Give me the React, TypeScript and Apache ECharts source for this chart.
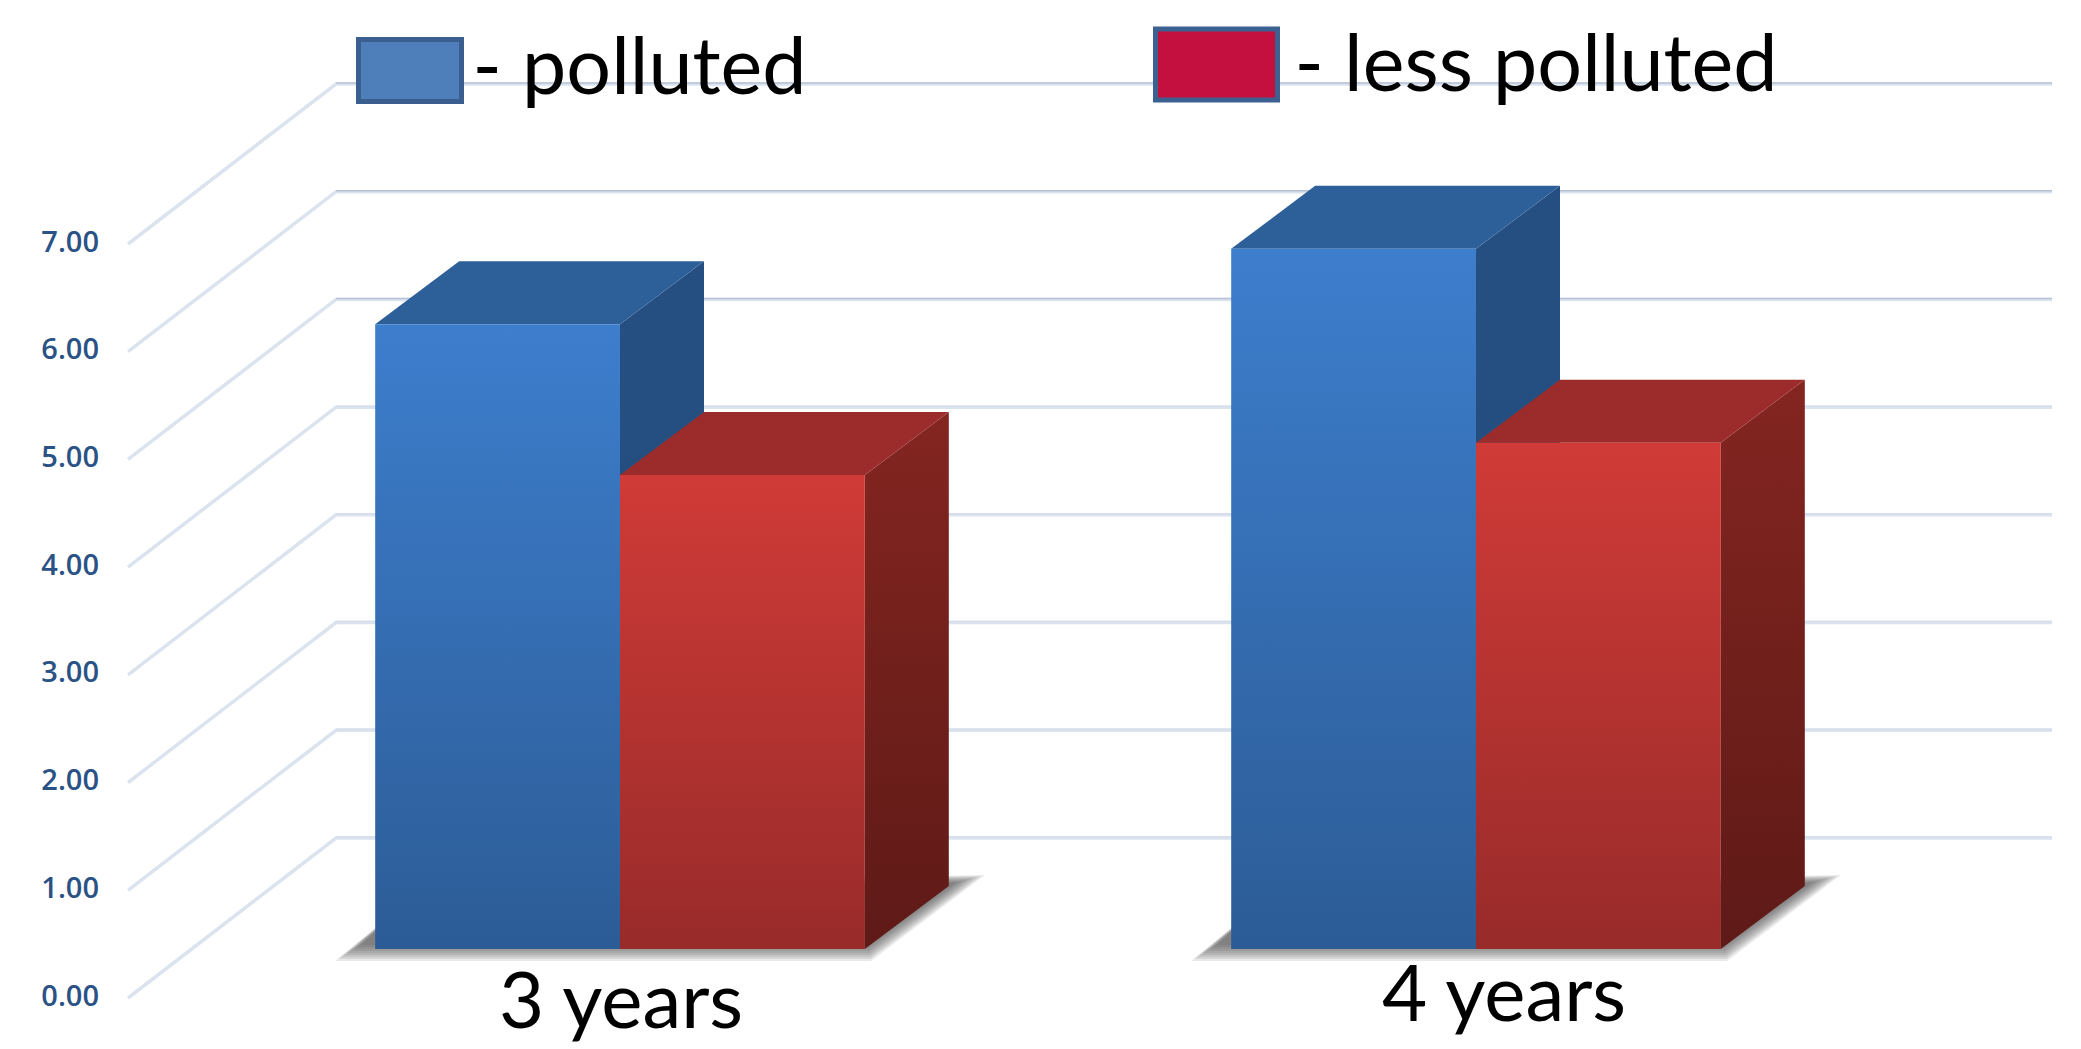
import React, { useEffect, useRef } from "react";
import * as echarts from "echarts";

const categories = ["3 years", "4 years"];
const pollutedValues = [5.8, 6.5];
const lessPollutedValues = [4.4, 4.7];
const yTicks = [0, 1, 2, 3, 4, 5, 6, 7];
const pollutedName = "- polluted";
const lessPollutedName = "- less polluted";

// Projection of the floor: bars stand part-way back between the front edge and the wall.
const WALL_DX = 208;
const WALL_DY = -160;
const FLOOR_DX = 64;
const FLOOR_DY = -49;
const BAR_DX = 84;
const BAR_DY = -63;
const BAR_RATIO = 0.286;
const RIGHT_END = 2052;
const SHADOW_LAYERS = 9;

const poly = (points: number[][], fill: any) => ({
  type: "polygon",
  shape: { points },
  style: { fill },
});

const vertical = (from: string, to: string) =>
  new echarts.graphic.LinearGradient(0, 0, 0, 1, [
    { offset: 0, color: from },
    { offset: 1, color: to },
  ]);

const renderWall = (params: any, api: any) => {
  const value = api.value(1);
  const front = api.coord([0, value]);
  const x = params.coordSys.x;
  const y = front[1];
  const cornerX = x + WALL_DX;
  const cornerY = y + WALL_DY;
  // The upper wall lines carry a darker rim along their top edge.
  const rim = value >= 5 ? "#b6c2d4" : "#d5deea";
  return {
    type: "group",
    children: [
      {
        type: "polyline",
        shape: { points: [[x, y], [cornerX, cornerY], [RIGHT_END, cornerY]] },
        style: { fill: "none", stroke: "#dbe3ef", lineWidth: 3.5 },
      },
      {
        type: "line",
        shape: { x1: cornerX, y1: cornerY - 1, x2: RIGHT_END, y2: cornerY - 1 },
        style: { stroke: rim, lineWidth: 1.5 },
      },
    ],
  };
};

// Soft floor shadow, built from nested translucent polygons that darken toward the bars.
const renderShadow = (_params: any, api: any) => {
  const base = api.coord([api.value(0), 0]);
  const w = api.size([1, 0])[0] * BAR_RATIO;
  const cx = base[0] + FLOOR_DX;
  const y = base[1] + FLOOR_DY;
  const children = [];
  for (let i = 0; i < SHADOW_LAYERS; i++) {
    const t = i * 2;
    children.push({
      type: "polygon",
      shape: {
        points: [
          [cx - w - 40 + t * 1.6, y + 12 - t],
          [cx - w + 50, y - 62],
          [cx + w + 120 - t * 1.9, y - 74 + t * 0.5],
          [cx + w + 6 - t * 0.2, y + 12 - t],
        ],
      },
      style: { fill: "rgba(70,70,70,0.12)" },
    });
  }
  return { type: "group", children };
};

const renderBar =
  (side: number, colors: { front: string[]; flank: string[]; cap: string }) =>
  (_params: any, api: any) => {
    const cat = api.value(0);
    const base = api.coord([cat, 0]);
    const top = api.coord([cat, api.value(1)]);
    const w = api.size([1, 0])[0] * BAR_RATIO;
    const x0 = base[0] + FLOOR_DX + (side < 0 ? -w : 0);
    const x1 = x0 + w;
    const yB = base[1] + FLOOR_DY;
    const yT = top[1] + FLOOR_DY;
    return {
      type: "group",
      children: [
        poly(
          [
            [x1, yT],
            [x1 + BAR_DX, yT + BAR_DY],
            [x1 + BAR_DX, yB + BAR_DY],
            [x1, yB],
          ],
          vertical(colors.flank[0], colors.flank[1])
        ),
        poly(
          [
            [x0, yT],
            [x0 + BAR_DX, yT + BAR_DY],
            [x1 + BAR_DX, yT + BAR_DY],
            [x1, yT],
          ],
          colors.cap
        ),
        {
          type: "rect",
          shape: { x: x0, y: yT, width: w, height: yB - yT },
          style: { fill: vertical(colors.front[0], colors.front[1]) },
        },
      ],
    };
  };

const legendFont = {
  fontFamily: "Lato",
  fontSize: 79,
  color: "#000",
};

export default function App() {
  const ref = useRef<HTMLDivElement>(null);

  useEffect(() => {
    const chart = echarts.init(ref.current!, undefined, { renderer: "svg" });
    chart.setOption({
      animation: false,
      backgroundColor: "#fff",
      grid: { left: 128, top: 244, width: 1712, height: 754, containLabel: false },
      legend: [
        {
          left: 351,
          top: 19,
          selectedMode: false,
          itemWidth: 103,
          itemHeight: 62,
          formatter: (name: string) => `{t|${name}}`,
          textStyle: {
            ...legendFont,
            rich: { t: { ...legendFont, padding: [0, 0, 14, 6] } },
          },
          data: [
            {
              name: pollutedName,
              icon: "rect",
              itemStyle: { color: "#4f7fba", borderColor: "#3a5f8e", borderWidth: 5 },
            },
          ],
        },
        {
          left: 1148,
          top: 16,
          selectedMode: false,
          itemWidth: 122,
          itemHeight: 71,
          formatter: (name: string) => `{t|${name}}`,
          textStyle: {
            ...legendFont,
            rich: { t: { ...legendFont, padding: [0, 0, 8, 12] } },
          },
          data: [
            {
              name: lessPollutedName,
              icon: "rect",
              itemStyle: { color: "#c4103f", borderColor: "#3c6190", borderWidth: 5 },
            },
          ],
        },
      ],
      xAxis: {
        type: "category",
        data: [
          { value: categories[0], textStyle: { padding: [7, 0, 0, 130] } },
          { value: categories[1], textStyle: { padding: [0, 0, 0, 184] } },
        ],
        axisLine: { show: false },
        axisTick: { show: false },
        axisLabel: {
          margin: -46,
          fontFamily: "Lato",
          fontSize: 78,
          color: "#000",
          interval: 0,
        },
      },
      yAxis: {
        type: "value",
        min: 0,
        max: 7,
        interval: 1,
        axisLine: { show: false },
        axisTick: { show: false },
        splitLine: { show: false },
        axisLabel: {
          margin: 29,
          fontFamily: "Open Sans",
          fontSize: 29,
          fontWeight: 600,
          color: "#2a5285",
          verticalAlign: "bottom",
          lineHeight: 8,
          formatter: (v: number) => v.toFixed(2),
        },
      },
      series: [
        {
          type: "custom",
          name: "wall",
          silent: true,
          encode: { x: 0, y: 1 },
          renderItem: renderWall,
          data: yTicks.map((v) => [0, v]),
        },
        {
          type: "custom",
          name: "floor shadow",
          silent: true,
          encode: { x: 0, y: 1 },
          renderItem: renderShadow,
          data: categories.map((_, i) => [i, 0]),
        },
        {
          type: "custom",
          name: pollutedName,
          itemStyle: { color: "#4f7fba" },
          encode: { x: 0, y: 1 },
          renderItem: renderBar(-1, {
            front: ["#3d7ecd", "#2c5c96"],
            flank: ["#254f82", "#264d7d"],
            cap: "#2d5f99",
          }),
          data: pollutedValues.map((v, i) => [i, v]),
        },
        {
          type: "custom",
          name: lessPollutedName,
          itemStyle: { color: "#c4103f" },
          encode: { x: 0, y: 1 },
          renderItem: renderBar(1, {
            front: ["#d03b37", "#982b2a"],
            flank: ["#842520", "#5e1a17"],
            cap: "#9c2c2b",
          }),
          data: lessPollutedValues.map((v, i) => [i, v]),
        },
      ],
    });
    return () => chart.dispose();
  }, []);

  return (
    <div
      ref={ref}
      style={{ position: "absolute", left: 0, top: 0, width: 2081, height: 1049 }}
    />
  );
}
